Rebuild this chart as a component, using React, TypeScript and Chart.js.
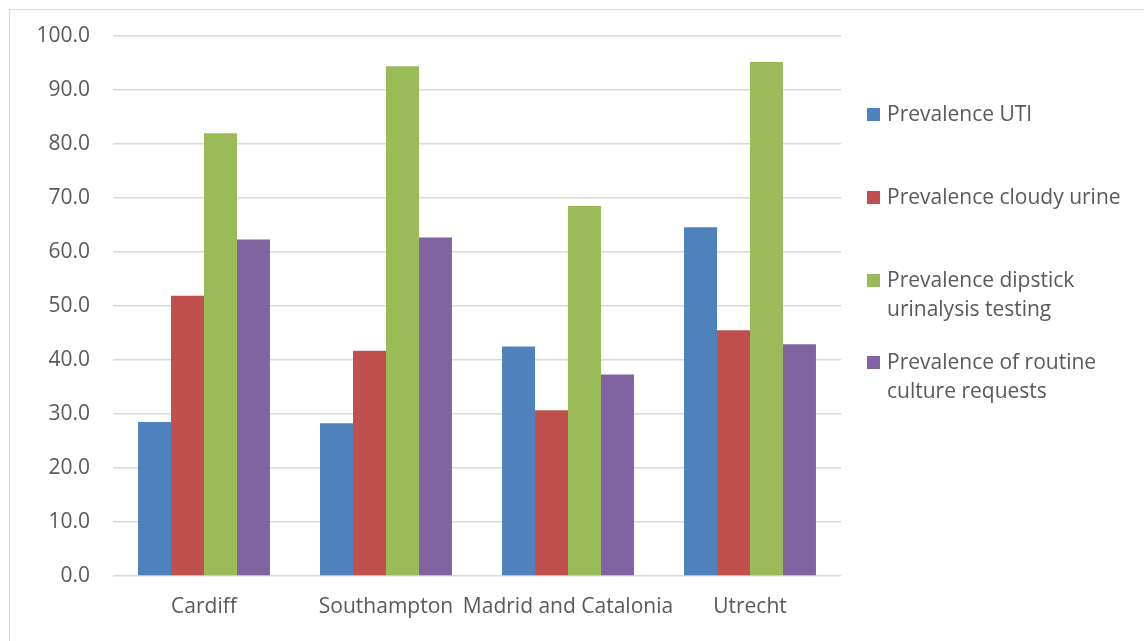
import React, { useEffect, useRef } from "react";
import { Chart, registerables } from "chart.js";

Chart.register(...registerables);

const sites = ["Cardiff", "Southampton", "Madrid and Catalonia", "Utrecht"];
const prevalenceUTI = [28.5, 28.3, 42.5, 64.6];
const prevalenceCloudy = [51.9, 41.7, 30.7, 45.5];
const prevalenceDipstick = [82.0, 94.4, 68.5, 95.2];
const prevalenceCulture = [62.3, 62.7, 37.3, 42.9];

const seriesLabels: (string | string[])[] = [
  "Prevalence UTI",
  "Prevalence cloudy urine",
  ["Prevalence dipstick", "urinalysis testing"],
  ["Prevalence of routine", "culture requests"],
];
const seriesColors = ["#4F81BD", "#C0504D", "#9BBB59", "#8064A2"];
const yTicks = [0, 10, 20, 30, 40, 50, 60, 70, 80, 90, 100];

const W = 1144;
const H = 641;
const FONT = "'Open Sans', 'DejaVu Sans', sans-serif";
const TEXT = "#595959";
const FONT_SIZE = 21;

// Frame around the chart and the legend on the right.
const decorPlugin = {
  id: "decor",
  beforeDraw(chart: any) {
    const ctx = chart.ctx;
    ctx.save();
    ctx.fillStyle = "#ffffff";
    ctx.fillRect(0, 0, W, H);
    ctx.strokeStyle = "#D9D9D9";
    ctx.lineWidth = 1;
    ctx.strokeRect(9.5, 9.5, W + 20, H + 20);
    ctx.restore();
  },
  afterDraw(chart: any) {
    const ctx = chart.ctx;
    const itemY = [114, 197, 280, 362];
    const lineH = 29;
    ctx.save();
    ctx.font = `${FONT_SIZE}px ${FONT}`;
    ctx.textBaseline = "middle";
    chart.data.datasets.forEach((ds: any, i: number) => {
      const y = itemY[i];
      ctx.fillStyle = ds.backgroundColor;
      ctx.fillRect(867, y - 6, 13, 13);
      ctx.fillStyle = TEXT;
      const lines = Array.isArray(seriesLabels[i]) ? (seriesLabels[i] as string[]) : [seriesLabels[i] as string];
      lines.forEach((t, k) => ctx.fillText(t, 887, y + 1 + k * lineH));
    });
    ctx.restore();
  },
};

export default function App() {
  const ref = useRef<HTMLCanvasElement>(null);

  useEffect(() => {
    if (!ref.current) return;
    const values = [prevalenceUTI, prevalenceCloudy, prevalenceDipstick, prevalenceCulture];
    const chart = new Chart(ref.current, {
      type: "bar",
      data: {
        labels: sites,
        datasets: values.map((v, i) => ({
          label: Array.isArray(seriesLabels[i]) ? (seriesLabels[i] as string[]).join(" ") : (seriesLabels[i] as string),
          data: v,
          backgroundColor: seriesColors[i],
          borderWidth: 0,
          barPercentage: 1,
          categoryPercentage: 0.725,
        })),
      },
      options: {
        responsive: false,
        animation: false,
        layout: { padding: { top: 36, right: W - 841, left: 0, bottom: 0 } },
        plugins: { legend: { display: false }, tooltip: { enabled: false } },
        scales: {
          x: {
            grid: { display: false },
            border: { display: false },
            ticks: { color: TEXT, font: { family: FONT, size: FONT_SIZE }, padding: 10, maxRotation: 0, autoSkip: false },
            afterFit(scale: any) {
              scale.height = H - 576;
            },
          },
          y: {
            min: 0,
            max: 100,
            afterBuildTicks(scale: any) {
              scale.ticks = yTicks.map((v) => ({ value: v }));
            },
            grid: { color: "#D9D9D9", lineWidth: 1.5, drawTicks: false },
            border: { display: false },
            ticks: {
              color: TEXT,
              font: { family: FONT, size: FONT_SIZE },
              padding: 23,
              callback: (v: any) => Number(v).toFixed(1),
            },
            afterFit(scale: any) {
              scale.width = 113;
            },
          },
        },
      },
      plugins: [decorPlugin],
    });
    return () => chart.destroy();
  }, []);

  return (
    <div style={{ position: "fixed", left: 0, top: 0, width: W, height: H, background: "#fff" }}>
      <canvas ref={ref} width={W} height={H} style={{ width: W, height: H, display: "block" }} />
    </div>
  );
}
